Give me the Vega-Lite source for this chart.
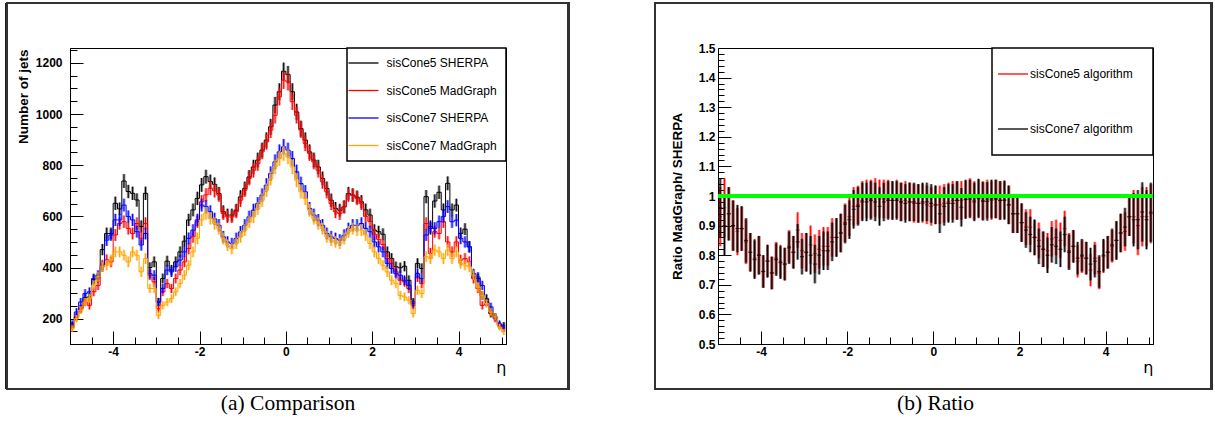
{
"padding": {"left": 5, "top": 1, "right": 5, "bottom": 3},
"autosize": {"type": "pad"},
"spacing": 212,
"bounds": "flush",
"data": {"values": [
{"eta":-4.95,"s5":174,"m5":167,"s7":180,"m7":161,"es5":13,"em5":13,"es7":13,"em7":13,"r5":0.93,"r7":0.96,"er":0.1},
{"eta":-4.85,"s5":207,"m5":207,"s7":226,"m7":200,"es5":14,"em5":14,"es7":15,"em7":14,"r5":0.96,"r7":0.90,"er":0.1},
{"eta":-4.75,"s5":239,"m5":239,"s7":265,"m7":233,"es5":15,"em5":15,"es7":16,"em7":15,"r5":0.94,"r7":0.94,"er":0.09},
{"eta":-4.65,"s5":282,"m5":265,"s7":298,"m7":265,"es5":17,"em5":16,"es7":17,"em7":16,"r5":0.90,"r7":0.90,"er":0.085},
{"eta":-4.55,"s5":285,"m5":252,"s7":305,"m7":280,"es5":17,"em5":16,"es7":17,"em7":17,"r5":0.88,"r7":0.89,"er":0.08},
{"eta":-4.45,"s5":353,"m5":305,"s7":357,"m7":331,"es5":19,"em5":17,"es7":19,"em7":18,"r5":0.89,"r7":0.89,"er":0.075},
{"eta":-4.35,"s5":360,"m5":330,"s7":370,"m7":363,"es5":19,"em5":18,"es7":19,"em7":19,"r5":0.845,"r7":0.85,"er":0.075},
{"eta":-4.25,"s5":470,"m5":410,"s7":403,"m7":403,"es5":22,"em5":20,"es7":20,"em7":20,"r5":0.81,"r7":0.81,"er":0.065},
{"eta":-4.15,"s5":533,"m5":430,"s7":507,"m7":409,"es5":23,"em5":21,"es7":23,"em7":20,"r5":0.79,"r7":0.785,"er":0.065},
{"eta":-4.05,"s5":533,"m5":422,"s7":527,"m7":429,"es5":23,"em5":21,"es7":23,"em7":21,"r5":0.80,"r7":0.80,"er":0.065},
{"eta":-3.95,"s5":651,"m5":527,"s7":586,"m7":461,"es5":26,"em5":23,"es7":24,"em7":21,"r5":0.745,"r7":0.745,"er":0.055},
{"eta":-3.85,"s5":629,"m5":572,"s7":586,"m7":461,"es5":25,"em5":24,"es7":24,"em7":21,"r5":0.78,"r7":0.78,"er":0.055},
{"eta":-3.75,"s5":738,"m5":579,"s7":644,"m7":448,"es5":27,"em5":24,"es7":25,"em7":21,"r5":0.74,"r7":0.74,"er":0.055},
{"eta":-3.65,"s5":697,"m5":553,"s7":599,"m7":422,"es5":26,"em5":24,"es7":24,"em7":21,"r5":0.79,"r7":0.785,"er":0.055},
{"eta":-3.55,"s5":690,"m5":533,"s7":586,"m7":461,"es5":26,"em5":23,"es7":24,"em7":21,"r5":0.78,"r7":0.775,"er":0.055},
{"eta":-3.45,"s5":664,"m5":572,"s7":540,"m7":448,"es5":26,"em5":24,"es7":23,"em7":21,"r5":0.77,"r7":0.77,"er":0.055},
{"eta":-3.35,"s5":560,"m5":514,"s7":488,"m7":383,"es5":24,"em5":23,"es7":22,"em7":20,"r5":0.83,"r7":0.825,"er":0.055},
{"eta":-3.25,"s5":690,"m5":572,"s7":533,"m7":435,"es5":26,"em5":24,"es7":23,"em7":21,"r5":0.81,"r7":0.81,"er":0.055},
{"eta":-3.15,"s5":400,"m5":370,"s7":376,"m7":318,"es5":20,"em5":19,"es7":19,"em7":18,"r5":0.885,"r7":0.845,"er":0.06},
{"eta":-3.05,"s5":422,"m5":344,"s7":370,"m7":318,"es5":21,"em5":19,"es7":19,"em7":18,"r5":0.815,"r7":0.795,"er":0.06},
{"eta":-2.95,"s5":265,"m5":239,"s7":265,"m7":213,"es5":16,"em5":15,"es7":16,"em7":15,"r5":0.81,"r7":0.81,"er":0.065},
{"eta":-2.85,"s5":357,"m5":305,"s7":318,"m7":252,"es5":19,"em5":17,"es7":18,"em7":16,"r5":0.835,"r7":0.80,"er":0.065},
{"eta":-2.75,"s5":425,"m5":337,"s7":390,"m7":265,"es5":21,"em5":18,"es7":20,"em7":16,"r5":0.805,"r7":0.77,"er":0.065},
{"eta":-2.65,"s5":390,"m5":318,"s7":383,"m7":278,"es5":20,"em5":18,"es7":20,"em7":17,"r5":0.82,"r7":0.80,"er":0.065},
{"eta":-2.55,"s5":422,"m5":357,"s7":403,"m7":305,"es5":21,"em5":19,"es7":20,"em7":17,"r5":0.83,"r7":0.815,"er":0.065},
{"eta":-2.45,"s5":461,"m5":390,"s7":429,"m7":337,"es5":21,"em5":20,"es7":21,"em7":18,"r5":0.83,"r7":0.815,"er":0.065},
{"eta":-2.35,"s5":503,"m5":422,"s7":461,"m7":370,"es5":22,"em5":21,"es7":21,"em7":19,"r5":0.86,"r7":0.845,"er":0.065},
{"eta":-2.25,"s5":586,"m5":474,"s7":514,"m7":409,"es5":24,"em5":22,"es7":23,"em7":20,"r5":0.86,"r7":0.86,"er":0.065},
{"eta":-2.15,"s5":625,"m5":520,"s7":546,"m7":461,"es5":25,"em5":23,"es7":23,"em7":21,"r5":0.875,"r7":0.875,"er":0.065},
{"eta":-2.05,"s5":670,"m5":579,"s7":586,"m7":514,"es5":26,"em5":24,"es7":24,"em7":23,"r5":0.91,"r7":0.905,"er":0.065},
{"eta":-1.95,"s5":723,"m5":657,"s7":644,"m7":586,"es5":27,"em5":26,"es7":25,"em7":24,"r5":0.93,"r7":0.92,"er":0.065},
{"eta":-1.85,"s5":755,"m5":684,"s7":638,"m7":612,"es5":27,"em5":26,"es7":25,"em7":25,"r5":0.965,"r7":0.955,"er":0.065},
{"eta":-1.75,"s5":736,"m5":710,"s7":618,"m7":592,"es5":27,"em5":27,"es7":25,"em7":24,"r5":0.97,"r7":0.965,"er":0.065},
{"eta":-1.65,"s5":725,"m5":700,"s7":590,"m7":572,"es5":27,"em5":26,"es7":24,"em7":24,"r5":0.985,"r7":0.98,"er":0.065},
{"eta":-1.55,"s5":689,"m5":683,"s7":565,"m7":552,"es5":26,"em5":26,"es7":24,"em7":23,"r5":0.99,"r7":0.98,"er":0.065},
{"eta":-1.45,"s5":618,"m5":611,"s7":520,"m7":513,"es5":25,"em5":25,"es7":23,"em7":23,"r5":0.99,"r7":0.985,"er":0.065},
{"eta":-1.35,"s5":605,"m5":598,"s7":500,"m7":487,"es5":25,"em5":24,"es7":22,"em7":22,"r5":0.995,"r7":0.98,"er":0.065},
{"eta":-1.25,"s5":605,"m5":598,"s7":494,"m7":474,"es5":25,"em5":24,"es7":22,"em7":22,"r5":0.99,"r7":0.965,"er":0.065},
{"eta":-1.15,"s5":624,"m5":618,"s7":513,"m7":494,"es5":25,"em5":25,"es7":23,"em7":22,"r5":0.99,"r7":0.98,"er":0.065},
{"eta":-1.05,"s5":676,"m5":663,"s7":539,"m7":520,"es5":26,"em5":26,"es7":23,"em7":23,"r5":0.99,"r7":0.985,"er":0.065},
{"eta":-0.95,"s5":709,"m5":702,"s7":565,"m7":546,"es5":27,"em5":26,"es7":24,"em7":23,"r5":0.985,"r7":0.985,"er":0.065},
{"eta":-0.85,"s5":754,"m5":748,"s7":598,"m7":578,"es5":27,"em5":27,"es7":24,"em7":24,"r5":0.99,"r7":0.985,"er":0.065},
{"eta":-0.75,"s5":793,"m5":780,"s7":624,"m7":598,"es5":28,"em5":28,"es7":25,"em7":24,"r5":0.98,"r7":0.98,"er":0.065},
{"eta":-0.65,"s5":820,"m5":806,"s7":650,"m7":631,"es5":29,"em5":28,"es7":25,"em7":25,"r5":0.985,"r7":0.975,"er":0.065},
{"eta":-0.55,"s5":859,"m5":852,"s7":683,"m7":663,"es5":29,"em5":29,"es7":26,"em7":26,"r5":0.98,"r7":0.98,"er":0.065},
{"eta":-0.45,"s5":898,"m5":891,"s7":722,"m7":702,"es5":30,"em5":30,"es7":27,"em7":26,"r5":0.975,"r7":0.98,"er":0.065},
{"eta":-0.35,"s5":950,"m5":937,"s7":767,"m7":748,"es5":31,"em5":31,"es7":28,"em7":27,"r5":0.975,"r7":0.975,"er":0.065},
{"eta":-0.25,"s5":1035,"m5":995,"s7":813,"m7":793,"es5":32,"em5":32,"es7":29,"em7":28,"r5":0.975,"r7":0.98,"er":0.065},
{"eta":-0.15,"s5":1087,"m5":1067,"s7":852,"m7":826,"es5":33,"em5":33,"es7":29,"em7":29,"r5":0.97,"r7":0.98,"er":0.065},
{"eta":-0.05,"s5":1167,"m5":1132,"s7":872,"m7":846,"es5":34,"em5":34,"es7":30,"em7":29,"r5":0.965,"r7":0.975,"er":0.065},
{"eta":0.05,"s5":1154,"m5":1126,"s7":859,"m7":833,"es5":34,"em5":34,"es7":29,"em7":29,"r5":0.97,"r7":0.97,"er":0.065},
{"eta":0.15,"s5":1087,"m5":1048,"s7":826,"m7":793,"es5":33,"em5":32,"es7":29,"em7":28,"r5":0.97,"r7":0.94,"er":0.065},
{"eta":0.25,"s5":1008,"m5":995,"s7":774,"m7":741,"es5":32,"em5":32,"es7":28,"em7":27,"r5":0.975,"r7":0.965,"er":0.065},
{"eta":0.35,"s5":943,"m5":937,"s7":728,"m7":696,"es5":31,"em5":31,"es7":27,"em7":26,"r5":0.98,"r7":0.975,"er":0.065},
{"eta":0.45,"s5":898,"m5":885,"s7":696,"m7":670,"es5":30,"em5":30,"es7":26,"em7":26,"r5":0.985,"r7":0.975,"er":0.065},
{"eta":0.55,"s5":852,"m5":846,"s7":631,"m7":624,"es5":29,"em5":29,"es7":25,"em7":25,"r5":0.985,"r7":0.985,"er":0.065},
{"eta":0.65,"s5":820,"m5":813,"s7":605,"m7":592,"es5":29,"em5":29,"es7":25,"em7":24,"r5":0.985,"r7":0.962,"er":0.065},
{"eta":0.75,"s5":793,"m5":780,"s7":585,"m7":572,"es5":28,"em5":28,"es7":24,"em7":24,"r5":0.99,"r7":0.988,"er":0.065},
{"eta":0.85,"s5":748,"m5":735,"s7":565,"m7":552,"es5":27,"em5":27,"es7":24,"em7":23,"r5":0.995,"r7":0.99,"er":0.065},
{"eta":0.95,"s5":709,"m5":696,"s7":533,"m7":520,"es5":27,"em5":26,"es7":23,"em7":23,"r5":0.985,"r7":0.98,"er":0.065},
{"eta":1.05,"s5":663,"m5":650,"s7":520,"m7":507,"es5":26,"em5":25,"es7":23,"em7":23,"r5":0.99,"r7":0.993,"er":0.065},
{"eta":1.15,"s5":631,"m5":618,"s7":513,"m7":500,"es5":25,"em5":25,"es7":23,"em7":22,"r5":0.985,"r7":0.982,"er":0.065},
{"eta":1.25,"s5":624,"m5":611,"s7":507,"m7":494,"es5":25,"em5":25,"es7":23,"em7":22,"r5":0.99,"r7":0.982,"er":0.065},
{"eta":1.35,"s5":637,"m5":637,"s7":526,"m7":513,"es5":25,"em5":25,"es7":23,"em7":23,"r5":0.985,"r7":0.99,"er":0.065},
{"eta":1.45,"s5":689,"m5":683,"s7":552,"m7":539,"es5":26,"em5":26,"es7":23,"em7":23,"r5":0.99,"r7":0.99,"er":0.065},
{"eta":1.55,"s5":683,"m5":683,"s7":565,"m7":552,"es5":26,"em5":26,"es7":24,"em7":23,"r5":0.985,"r7":0.985,"er":0.065},
{"eta":1.65,"s5":675,"m5":670,"s7":565,"m7":546,"es5":26,"em5":26,"es7":24,"em7":23,"r5":0.988,"r7":0.985,"er":0.065},
{"eta":1.75,"s5":657,"m5":650,"s7":572,"m7":546,"es5":26,"em5":25,"es7":24,"em7":23,"r5":0.97,"r7":0.97,"er":0.065},
{"eta":1.85,"s5":625,"m5":600,"s7":553,"m7":527,"es5":25,"em5":24,"es7":24,"em7":23,"r5":0.94,"r7":0.94,"er":0.065},
{"eta":1.95,"s5":605,"m5":580,"s7":540,"m7":494,"es5":25,"em5":24,"es7":23,"em7":22,"r5":0.94,"r7":0.94,"er":0.065},
{"eta":2.05,"s5":546,"m5":530,"s7":500,"m7":461,"es5":23,"em5":23,"es7":22,"em7":21,"r5":0.91,"r7":0.91,"er":0.065},
{"eta":2.15,"s5":540,"m5":510,"s7":481,"m7":435,"es5":23,"em5":23,"es7":22,"em7":21,"r5":0.895,"r7":0.885,"er":0.06},
{"eta":2.25,"s5":530,"m5":490,"s7":461,"m7":409,"es5":23,"em5":22,"es7":21,"em7":20,"r5":0.895,"r7":0.87,"er":0.06},
{"eta":2.35,"s5":461,"m5":435,"s7":416,"m7":383,"es5":21,"em5":21,"es7":20,"em7":20,"r5":0.86,"r7":0.86,"er":0.06},
{"eta":2.45,"s5":435,"m5":416,"s7":396,"m7":350,"es5":21,"em5":20,"es7":20,"em7":19,"r5":0.85,"r7":0.83,"er":0.06},
{"eta":2.55,"s5":403,"m5":383,"s7":376,"m7":337,"es5":20,"em5":20,"es7":19,"em7":18,"r5":0.82,"r7":0.82,"er":0.06},
{"eta":2.65,"s5":399,"m5":350,"s7":370,"m7":291,"es5":20,"em5":19,"es7":19,"em7":17,"r5":0.815,"r7":0.80,"er":0.06},
{"eta":2.75,"s5":405,"m5":344,"s7":350,"m7":285,"es5":20,"em5":19,"es7":19,"em7":17,"r5":0.855,"r7":0.835,"er":0.06},
{"eta":2.85,"s5":350,"m5":318,"s7":330,"m7":272,"es5":19,"em5":18,"es7":18,"em7":16,"r5":0.86,"r7":0.83,"er":0.06},
{"eta":2.95,"s5":265,"m5":252,"s7":259,"m7":220,"es5":16,"em5":16,"es7":16,"em7":15,"r5":0.85,"r7":0.82,"er":0.06},
{"eta":3.05,"s5":416,"m5":363,"s7":376,"m7":311,"es5":20,"em5":19,"es7":19,"em7":18,"r5":0.89,"r7":0.87,"er":0.06},
{"eta":3.15,"s5":396,"m5":337,"s7":357,"m7":298,"es5":20,"em5":18,"es7":19,"em7":17,"r5":0.815,"r7":0.81,"er":0.06},
{"eta":3.25,"s5":677,"m5":572,"s7":527,"m7":442,"es5":26,"em5":24,"es7":23,"em7":21,"r5":0.83,"r7":0.83,"er":0.055},
{"eta":3.35,"s5":553,"m5":455,"s7":560,"m7":435,"es5":24,"em5":21,"es7":24,"em7":21,"r5":0.78,"r7":0.79,"er":0.055},
{"eta":3.45,"s5":660,"m5":540,"s7":553,"m7":468,"es5":26,"em5":23,"es7":24,"em7":22,"r5":0.795,"r7":0.80,"er":0.055},
{"eta":3.55,"s5":694,"m5":533,"s7":579,"m7":461,"es5":26,"em5":23,"es7":24,"em7":21,"r5":0.79,"r7":0.79,"er":0.055},
{"eta":3.65,"s5":625,"m5":579,"s7":599,"m7":435,"es5":25,"em5":24,"es7":24,"em7":21,"r5":0.75,"r7":0.77,"er":0.055},
{"eta":3.75,"s5":729,"m5":500,"s7":638,"m7":468,"es5":27,"em5":22,"es7":25,"em7":22,"r5":0.79,"r7":0.78,"er":0.055},
{"eta":3.85,"s5":625,"m5":461,"s7":579,"m7":435,"es5":25,"em5":21,"es7":24,"em7":21,"r5":0.74,"r7":0.745,"er":0.055},
{"eta":3.95,"s5":644,"m5":500,"s7":585,"m7":461,"es5":25,"em5":22,"es7":24,"em7":21,"r5":0.795,"r7":0.80,"er":0.055},
{"eta":4.05,"s5":533,"m5":429,"s7":514,"m7":416,"es5":23,"em5":21,"es7":23,"em7":20,"r5":0.81,"r7":0.81,"er":0.055},
{"eta":4.15,"s5":550,"m5":435,"s7":500,"m7":409,"es5":23,"em5":21,"es7":22,"em7":20,"r5":0.83,"r7":0.835,"er":0.055},
{"eta":4.25,"s5":481,"m5":422,"s7":481,"m7":403,"es5":22,"em5":21,"es7":22,"em7":20,"r5":0.85,"r7":0.85,"er":0.065},
{"eta":4.35,"s5":370,"m5":357,"s7":376,"m7":370,"es5":19,"em5":19,"es7":19,"em7":19,"r5":0.875,"r7":0.875,"er":0.065},
{"eta":4.45,"s5":357,"m5":318,"s7":363,"m7":324,"es5":19,"em5":18,"es7":19,"em7":18,"r5":0.88,"r7":0.895,"er":0.065},
{"eta":4.55,"s5":291,"m5":252,"s7":330,"m7":291,"es5":17,"em5":16,"es7":18,"em7":17,"r5":0.93,"r7":0.93,"er":0.065},
{"eta":4.65,"s5":278,"m5":265,"s7":265,"m7":259,"es5":17,"em5":16,"es7":16,"em7":16,"r5":0.93,"r7":0.92,"er":0.09},
{"eta":4.75,"s5":220,"m5":226,"s7":246,"m7":226,"es5":15,"em5":15,"es7":16,"em7":15,"r5":0.90,"r7":0.92,"er":0.1},
{"eta":4.85,"s5":207,"m5":200,"s7":207,"m7":207,"es5":14,"em5":14,"es7":14,"em7":14,"r5":0.93,"r7":0.946,"er":0.1},
{"eta":4.95,"s5":174,"m5":174,"s7":180,"m7":167,"es5":13,"em5":13,"es7":13,"em7":13,"r5":0.93,"r7":0.92,"er":0.1},
{"eta":5.05,"s5":174,"m5":161,"s7":167,"m7":148,"es5":13,"em5":13,"es7":13,"em7":12,"r5":0.94,"r7":0.945,"er":0.1}
]},
"hconcat": [
{
"width": 436, "height": 296,
"title": {"text": "(a) Comparison", "orient": "bottom", "anchor": "middle", "frame": "group", "offset": 3},
"layer": [
{"mark": {"type": "rect", "fill": "transparent", "stroke": "#333333", "strokeWidth": 1.5, "clip": false},
 "encoding": {"x": {"datum": -6.466, "type": "quantitative"}, "x2": {"datum": 6.545}, "y": {"datum": 1434, "type": "quantitative"}, "y2": {"datum": -75}}},
{"mark": {"type": "errorbar", "ticks": false, "thickness": 3, "opacity": 0.4, "color": "#000000"},
 "encoding": {
  "x": {"field": "eta", "type": "quantitative", "scale": {"domain": [-5, 5.1], "nice": false, "zero": false},
   "axis": {"title": "η", "values": [-5,-4.5,-4,-3.5,-3,-2.5,-2,-1.5,-1,-0.5,0,0.5,1,1.5,2,2.5,3,3.5,4,4.5,5], "tickCount": 1000,
    "labelExpr": "datum.value % 2 === 0 ? '' + datum.value : ''", "labelOverlap": false,
    "tickSize": {"condition": {"test": "datum.value % 2 === 0", "value": -13}, "value": -7},
    "labelPadding": 15, "titleFont": "DejaVu Sans", "titleFontWeight": "normal", "titleFontSize": 16,
    "titleX": 436, "titleY": 28, "titleAlign": "right", "titleBaseline": "alphabetic"}},
  "y": {"field": "s5", "type": "quantitative", "title": "Number of jets", "scale": {"domain": [101, 1258], "nice": false, "zero": false},
   "axis": {"values": [150,200,250,300,350,400,450,500,550,600,650,700,750,800,850,900,950,1000,1050,1100,1150,1200,1250], "tickCount": 1000,
    "labelExpr": "datum.value % 200 === 0 ? '' + datum.value : ''", "labelOverlap": false,
    "tickSize": {"condition": {"test": "datum.value % 200 === 0", "value": -13}, "value": -7},
    "labelPadding": 21, "titleX": -47, "titleY": 1, "titleAlign": "right", "titleBaseline": "middle"}},
  "yError": {"field": "es5"}}},
{"mark": {"type": "errorbar", "ticks": false, "thickness": 1, "color": "#000000"},
 "encoding": {"x": {"field": "eta", "type": "quantitative"}, "y": {"field": "s5", "type": "quantitative", "title": "Number of jets"}, "yError": {"field": "es5"}}},
{"mark": {"type": "line", "interpolate": "step", "strokeWidth": 1},
 "encoding": {"x": {"field": "eta", "type": "quantitative"}, "y": {"field": "s5", "type": "quantitative", "title": "Number of jets"},
  "color": {"datum": "sisCone5 SHERPA", "scale": {"domain": ["sisCone5 SHERPA", "sisCone5 MadGraph", "sisCone7 SHERPA", "sisCone7 MadGraph"], "range": ["#000000", "#ff0000", "#0000ff", "#ffa500"]},
   "legend": {"orient": "top-right", "offset": 0, "padding": 9, "rowPadding": 15.5, "symbolOffset": 1.5, "labelOffset": 17}}}},
{"mark": {"type": "errorbar", "ticks": false, "thickness": 3, "opacity": 0.4, "color": "#ff0000"},
 "encoding": {"x": {"field": "eta", "type": "quantitative"}, "y": {"field": "m5", "type": "quantitative", "title": "Number of jets"}, "yError": {"field": "em5"}}},
{"mark": {"type": "errorbar", "ticks": false, "thickness": 1, "color": "#ff0000"},
 "encoding": {"x": {"field": "eta", "type": "quantitative"}, "y": {"field": "m5", "type": "quantitative", "title": "Number of jets"}, "yError": {"field": "em5"}}},
{"mark": {"type": "line", "interpolate": "step", "strokeWidth": 1},
 "encoding": {"x": {"field": "eta", "type": "quantitative"}, "y": {"field": "m5", "type": "quantitative", "title": "Number of jets"}, "color": {"datum": "sisCone5 MadGraph"}}},
{"mark": {"type": "errorbar", "ticks": false, "thickness": 3, "opacity": 0.4, "color": "#0000ff"},
 "encoding": {"x": {"field": "eta", "type": "quantitative"}, "y": {"field": "s7", "type": "quantitative", "title": "Number of jets"}, "yError": {"field": "es7"}}},
{"mark": {"type": "errorbar", "ticks": false, "thickness": 1, "color": "#0000ff"},
 "encoding": {"x": {"field": "eta", "type": "quantitative"}, "y": {"field": "s7", "type": "quantitative", "title": "Number of jets"}, "yError": {"field": "es7"}}},
{"mark": {"type": "line", "interpolate": "step", "strokeWidth": 1},
 "encoding": {"x": {"field": "eta", "type": "quantitative"}, "y": {"field": "s7", "type": "quantitative", "title": "Number of jets"}, "color": {"datum": "sisCone7 SHERPA"}}},
{"mark": {"type": "errorbar", "ticks": false, "thickness": 3, "opacity": 0.4, "color": "#ffa500"},
 "encoding": {"x": {"field": "eta", "type": "quantitative"}, "y": {"field": "m7", "type": "quantitative", "title": "Number of jets"}, "yError": {"field": "em7"}}},
{"mark": {"type": "errorbar", "ticks": false, "thickness": 1, "color": "#ffa500"},
 "encoding": {"x": {"field": "eta", "type": "quantitative"}, "y": {"field": "m7", "type": "quantitative", "title": "Number of jets"}, "yError": {"field": "em7"}}},
{"mark": {"type": "line", "interpolate": "step", "strokeWidth": 1},
 "encoding": {"x": {"field": "eta", "type": "quantitative"}, "y": {"field": "m7", "type": "quantitative", "title": "Number of jets"}, "color": {"datum": "sisCone7 MadGraph"}}}
]
},
{
"width": 435, "height": 296,
"title": {"text": "(b) Ratio", "orient": "bottom", "anchor": "middle", "frame": "group", "offset": 3},
"layer": [
{"mark": {"type": "rect", "fill": "transparent", "stroke": "#333333", "strokeWidth": 1.5, "clip": false},
 "encoding": {"x": {"datum": -6.463, "type": "quantitative"}, "x2": {"datum": 6.454}, "y": {"datum": 1.652, "type": "quantitative"}, "y2": {"datum": 0.348}}},
{"mark": {"type": "errorbar", "ticks": false, "thickness": 3, "opacity": 0.45, "color": "#ff0000"},
 "encoding": {
  "x": {"field": "eta", "type": "quantitative", "scale": {"domain": [-5, 5.1], "nice": false, "zero": false},
   "axis": {"title": "η", "values": [-5,-4.5,-4,-3.5,-3,-2.5,-2,-1.5,-1,-0.5,0,0.5,1,1.5,2,2.5,3,3.5,4,4.5,5], "tickCount": 1000,
    "labelExpr": "datum.value % 2 === 0 ? '' + datum.value : ''", "labelOverlap": false,
    "tickSize": {"condition": {"test": "datum.value % 2 === 0", "value": -13}, "value": -7},
    "labelPadding": 15, "titleFont": "DejaVu Sans", "titleFontWeight": "normal", "titleFontSize": 16,
    "titleX": 435, "titleY": 28, "titleAlign": "right", "titleBaseline": "alphabetic"}},
  "y": {"field": "r5", "type": "quantitative", "title": "Ratio MadGraph/ SHERPA", "scale": {"domain": [0.5, 1.5], "nice": false, "zero": false},
   "axis": {"values": [0.5,0.52,0.54,0.56,0.58,0.6,0.62,0.64,0.66,0.68,0.7,0.72,0.74,0.76,0.78,0.8,0.82,0.84,0.86,0.88,0.9,0.92,0.94,0.96,0.98,1,1.02,1.04,1.06,1.08,1.1,1.12,1.14,1.16,1.18,1.2,1.22,1.24,1.26,1.28,1.3,1.32,1.34,1.36,1.38,1.4,1.42,1.44,1.46,1.48,1.5], "tickCount": 1000,
    "labelExpr": "abs(datum.value * 10 - round(datum.value * 10)) < 0.001 ? '' + datum.value : ''", "labelOverlap": false,
    "tickSize": {"condition": {"test": "abs(datum.value * 10 - round(datum.value * 10)) < 0.001", "value": -13}, "value": -6},
    "labelPadding": 16, "titleX": -41, "titleY": 148, "titleAlign": "center", "titleBaseline": "middle"}},
  "yError": {"field": "er"}}},
{"mark": {"type": "errorbar", "ticks": false, "thickness": 1},
 "encoding": {"x": {"field": "eta", "type": "quantitative"}, "y": {"field": "r5", "type": "quantitative", "title": "Ratio MadGraph/ SHERPA"}, "yError": {"field": "er"},
  "color": {"datum": "sisCone5 algorithm", "scale": {"domain": ["sisCone5 algorithm", "sisCone7 algorithm"], "range": ["#ff0000", "#000000"]},
   "legend": {"orient": "top-right", "offset": 0, "padding": 20, "rowPadding": 43, "symbolOffset": -5, "labelOffset": 11}}}},
{"mark": {"type": "tick", "orient": "horizontal", "size": 4, "thickness": 1.2, "color": "#ff0000"},
 "encoding": {"x": {"field": "eta", "type": "quantitative"}, "y": {"field": "r5", "type": "quantitative", "title": "Ratio MadGraph/ SHERPA"}}},
{"mark": {"type": "errorbar", "ticks": false, "thickness": 3, "opacity": 0.45, "color": "#000000"},
 "encoding": {"x": {"field": "eta", "type": "quantitative"}, "y": {"field": "r7", "type": "quantitative", "title": "Ratio MadGraph/ SHERPA"}, "yError": {"field": "er"}}},
{"mark": {"type": "errorbar", "ticks": false, "thickness": 1},
 "encoding": {"x": {"field": "eta", "type": "quantitative"}, "y": {"field": "r7", "type": "quantitative", "title": "Ratio MadGraph/ SHERPA"}, "yError": {"field": "er"}, "color": {"datum": "sisCone7 algorithm"}}},
{"mark": {"type": "tick", "orient": "horizontal", "size": 4, "thickness": 1.2, "color": "#000000"},
 "encoding": {"x": {"field": "eta", "type": "quantitative"}, "y": {"field": "r7", "type": "quantitative", "title": "Ratio MadGraph/ SHERPA"}}},
{"mark": {"type": "rule", "color": "#00ff00", "strokeWidth": 2.5},
 "encoding": {"y": {"datum": 1, "type": "quantitative"}}}
]
}
],
"resolve": {"scale": {"color": "independent"}, "legend": {"color": "independent"}},
"config": {
 "view": {"stroke": "#000000", "strokeWidth": 1},
 "font": "Liberation Sans",
 "axis": {"domainColor": "#000000", "tickColor": "#000000", "labelColor": "#000000", "titleColor": "#000000",
  "labelFont": "Liberation Sans", "labelFontWeight": "bold", "labelFontSize": 12,
  "titleFont": "Liberation Sans", "titleFontWeight": "bold", "titleFontSize": 13.5,
  "grid": false, "labelOverlap": false, "labelFlush": false, "labelBound": false},
 "legend": {"title": null, "strokeColor": "#000000", "strokeWidth": 1.5, "fillColor": "#ffffff",
  "labelFont": "Liberation Sans", "labelFontSize": 12, "labelColor": "#000000",
  "symbolType": "M-5,0H5", "symbolSize": 36, "symbolStrokeWidth": 1.3, "labelLimit": 200},
 "title": {"font": "Liberation Serif", "fontSize": 21.5, "fontWeight": "normal", "color": "#000000"}
}
}
